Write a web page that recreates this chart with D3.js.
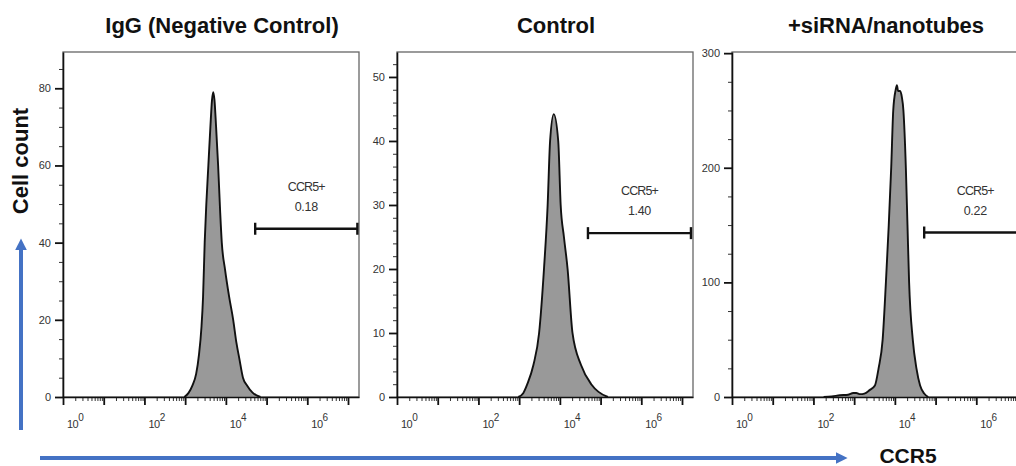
<!DOCTYPE html>
<html>
<head>
<meta charset="utf-8">
<script src="https://cdn.jsdelivr.net/npm/d3@7"></script>
<style>
  body { margin: 0; background: #fff; }
  svg { display: block; font-family: "Liberation Sans", Arial, sans-serif; }
  .tick text { font-size: 11px; fill: #333; }
</style>
</head>
<body>
<script>
// chart data
var panelTitles = ["IgG (Negative Control)", "Control", "+siRNA/nanotubes"];

// x = log10 of CCR5 intensity, y = cell count
var igLog   = [2.98, 3.08, 3.18, 3.27, 3.34, 3.40, 3.44, 3.48, 3.52, 3.57, 3.62, 3.66, 3.69, 3.72, 3.76, 3.81, 3.86, 3.90, 3.98, 4.08, 4.18, 4.26, 4.33, 4.42, 4.52, 4.65, 4.85];
var igCount = [0, 1, 3, 6, 11, 18, 26, 40, 50, 60, 70, 77, 79, 77, 70, 60, 48, 40, 33, 26, 20, 14, 10, 5, 3, 1.2, 0];

var ctrlLog   = [2.98, 3.10, 3.20, 3.35, 3.49, 3.61, 3.70, 3.76, 3.85, 3.96, 4.02, 4.10, 4.19, 4.31, 4.52, 4.77, 4.95, 5.18];
var ctrlCount = [0, 0.6, 2, 5, 10, 20, 30, 40, 44.2, 40, 30, 25, 20, 10, 5, 2, 0.8, 0];

var sirnaLog   = [2.25, 2.45, 2.65, 2.85, 2.98, 3.05, 3.15, 3.25, 3.38, 3.51, 3.60, 3.70, 3.78, 3.85, 3.91, 3.96, 4.02, 4.05, 4.08, 4.13, 4.17, 4.21, 4.27, 4.31, 4.35, 4.44, 4.53, 4.62, 4.72, 4.82];
var sirnaCount = [0, 0.5, 1.5, 2, 3.5, 3.5, 2.5, 3, 6, 10, 25, 50, 100, 150, 200, 250, 268, 272, 267, 267, 262, 250, 200, 150, 100, 50, 25, 10, 3, 0];

var yMax = [89.4, 53.9, 301];
var yMajorTicks = [[0, 20, 40, 60, 80], [0, 10, 20, 30, 40, 50], [0, 100, 200, 300]];
var yMinorStep = [5, 2, 25];

var xExpRange = [0, 7.27];
var xLabelExp = [0, 2, 4, 6];

var gateName = "CCR5+";
var gatePercent = ["0.18", "1.40", "0.22"];
var gateLog = [[4.72, 7.23], [4.69, 7.22], [4.72, 7.23]];
var gateLevel = [43.6, 25.6, 143.5];

var histLog = [igLog, ctrlLog, sirnaLog];
var histCount = [igCount, ctrlCount, sirnaCount];

var W = 1016, H = 466;
var panelLeft = [63, 397, 732];
var plotTop = 52, plotW = 296, plotH = 345;
var blue = "#4472c4";

var svg = d3.select("body").append("svg")
    .attr("width", W)
    .attr("height", H);

var x = d3.scaleLog()
    .domain([Math.pow(10, xExpRange[0]), Math.pow(10, xExpRange[1])])
    .range([0, plotW]);

var majorX = d3.range(0, 8).map(function(e) { return Math.pow(10, e); })
    .filter(function(v) { return v <= x.domain()[1]; });
var minorX = x.ticks().filter(function(v) { return majorX.indexOf(v) < 0; });

panelTitles.forEach(function(title, i) {
  var g = svg.append("g")
      .attr("transform", "translate(" + panelLeft[i] + "," + plotTop + ")");

  var y = d3.scaleLinear().domain([0, yMax[i]]).range([plotH, 0]);

  // frame
  g.append("rect")
      .attr("width", plotW)
      .attr("height", plotH)
      .attr("fill", "none")
      .attr("stroke", "#666")
      .attr("stroke-width", 1.3);

  // histogram
  var pts = histLog[i].map(function(e, k) { return {v: Math.pow(10, e), c: histCount[i][k]}; });
  var area = d3.area()
      .curve(d3.curveMonotoneX)
      .x(function(d) { return x(d.v); })
      .y0(y(0))
      .y1(function(d) { return y(d.c); });
  var line = d3.line()
      .curve(d3.curveMonotoneX)
      .x(function(d) { return x(d.v); })
      .y(function(d) { return y(d.c); });

  g.append("path")
      .attr("d", area(pts))
      .attr("fill", "#999");
  g.append("path")
      .attr("d", line(pts))
      .attr("fill", "none")
      .attr("stroke", "#111")
      .attr("stroke-width", 1.9);

  // y axis
  var minorY = d3.range(0, yMax[i], yMinorStep[i]).filter(function(v) { return yMajorTicks[i].indexOf(v) < 0; });
  g.append("g")
      .call(d3.axisLeft(y).tickValues(minorY).tickSize(4).tickSizeOuter(0).tickFormat(""))
      .call(function(a) { a.select(".domain").remove(); a.selectAll("line").attr("stroke", "#333"); });
  g.append("g")
      .call(d3.axisLeft(y).tickValues(yMajorTicks[i]).tickSize(8).tickPadding(4).tickSizeOuter(0))
      .call(function(a) {
        a.select(".domain").attr("stroke", "#111").attr("stroke-width", 1.6);
        a.selectAll("line").attr("stroke", "#111").attr("stroke-width", 1.8);
      });

  // x axis
  var xa = g.append("g").attr("transform", "translate(0," + plotH + ")");
  xa.append("g")
      .call(d3.axisBottom(x).tickValues(minorX).tickSize(4).tickSizeOuter(0).tickFormat(""))
      .call(function(a) { a.select(".domain").remove(); a.selectAll("line").attr("stroke", "#333"); });
  xa.append("g")
      .call(d3.axisBottom(x).tickValues(majorX).tickSize(8).tickSizeOuter(0).tickFormat(""))
      .call(function(a) {
        a.select(".domain").attr("stroke", "#111").attr("stroke-width", 1.6);
        a.selectAll("line").attr("stroke", "#111").attr("stroke-width", 1.8);
      });

  var lab = xa.selectAll(".xlab")
      .data(xLabelExp)
      .enter().append("text")
      .attr("class", "xlab")
      .attr("x", function(e) { return x(Math.pow(10, e)) + 4; })
      .attr("y", 31)
      .attr("fill", "#333")
      .style("font-size", "11px")
      .style("letter-spacing", "-0.5px");
  lab.append("tspan").text("10");
  lab.append("tspan")
      .attr("dy", -7)
      .style("font-size", "10px")
      .text(function(e) { return e; });

  // gate
  var gx0 = x(Math.pow(10, gateLog[i][0])),
      gx1 = x(Math.pow(10, gateLog[i][1])),
      gy = y(gateLevel[i]);
  var gate = g.append("g").attr("stroke", "#111").attr("stroke-width", 2.4);
  gate.append("line").attr("x1", gx0).attr("x2", gx1).attr("y1", gy).attr("y2", gy);
  gate.append("line").attr("x1", gx0).attr("x2", gx0).attr("y1", gy - 6).attr("y2", gy + 6);
  gate.append("line").attr("x1", gx1).attr("x2", gx1).attr("y1", gy - 6).attr("y2", gy + 6);

  var gmid = x(Math.pow(10, (gateLog[i][0] + gateLog[i][1]) / 2));
  g.append("text")
      .attr("x", gmid).attr("y", gy - 38)
      .attr("text-anchor", "middle")
      .attr("fill", "#333")
      .style("font-size", "12.5px")
      .style("letter-spacing", "-0.9px")
      .text(gateName);
  g.append("text")
      .attr("x", gmid).attr("y", gy - 18)
      .attr("text-anchor", "middle")
      .attr("fill", "#333")
      .style("font-size", "12.5px")
      .style("letter-spacing", "-0.3px")
      .text(gatePercent[i]);

  // title
  svg.append("text")
      .attr("x", panelLeft[i] + plotW / 2 + (i === 2 ? 6 : 11))
      .attr("y", 33)
      .attr("text-anchor", "middle")
      .style("font-size", "22px")
      .style("font-weight", "bold")
      .attr("fill", "#111")
      .text(title);
});

// axis titles with blue arrows
svg.append("defs").append("marker")
    .attr("id", "head")
    .attr("viewBox", "0 0 10 10")
    .attr("refX", 2).attr("refY", 5)
    .attr("markerWidth", 3).attr("markerHeight", 3)
    .attr("orient", "auto")
  .append("path")
    .attr("d", "M0,0L10,5L0,10Z")
    .attr("fill", blue);

svg.append("line")
    .attr("x1", 21).attr("y1", 430).attr("x2", 21).attr("y2", 248)
    .attr("stroke", blue).attr("stroke-width", 4)
    .attr("marker-end", "url(#head)");

svg.append("line")
    .attr("x1", 40).attr("y1", 458).attr("x2", 838).attr("y2", 458)
    .attr("stroke", blue).attr("stroke-width", 4)
    .attr("marker-end", "url(#head)");

svg.append("text")
    .attr("transform", "translate(28,161) rotate(-90)")
    .attr("text-anchor", "middle")
    .style("font-size", "22px")
    .style("font-weight", "bold")
    .attr("fill", "#111")
    .text("Cell count");

svg.append("text")
    .attr("x", 908).attr("y", 463)
    .attr("text-anchor", "middle")
    .style("font-size", "21px")
    .style("font-weight", "bold")
    .attr("fill", "#111")
    .text("CCR5");
</script>
</body>
</html>
